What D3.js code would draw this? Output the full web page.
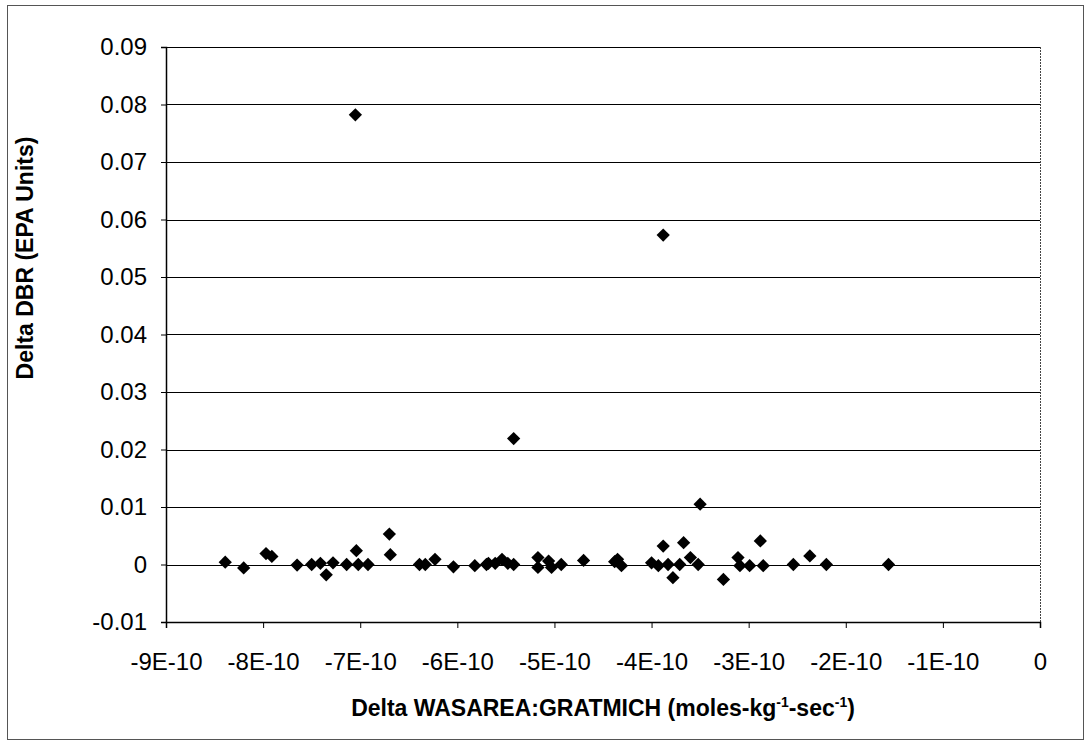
<!DOCTYPE html>
<html>
<head>
<meta charset="utf-8">
<script src="https://cdn.jsdelivr.net/npm/d3@7"></script>
<style>
  body { margin: 0; background: #fff; }
  text { font-family: "Liberation Sans", Arial, sans-serif; fill: #000; }
</style>
</head>
<body>
<script>
// values
let xValues = [
  -7.05e-10, -3.88e-10, -5.42e-10, -3.50e-10,
  -8.39e-10, -8.20e-10, -7.97e-10, -7.91e-10, -7.65e-10, -7.50e-10, -7.41e-10, -7.35e-10,
  -7.28e-10, -7.14e-10, -7.04e-10, -7.02e-10, -6.92e-10, -6.70e-10, -6.69e-10, -6.39e-10,
  -6.33e-10, -6.23e-10, -6.04e-10, -5.82e-10, -5.70e-10, -5.68e-10, -5.61e-10, -5.54e-10,
  -5.48e-10, -5.42e-10, -5.17e-10, -5.17e-10, -5.06e-10, -5.03e-10, -4.93e-10, -4.70e-10,
  -4.38e-10, -4.35e-10, -4.31e-10, -4.00e-10, -3.93e-10, -3.88e-10, -3.83e-10, -3.78e-10,
  -3.71e-10, -3.67e-10, -3.60e-10, -3.52e-10, -3.26e-10, -3.11e-10, -3.09e-10, -2.99e-10,
  -2.88e-10, -2.85e-10, -2.54e-10, -2.37e-10, -2.20e-10, -1.56e-10
];
let yValues = [
  0.0782, 0.0573, 0.0219, 0.0105,
  0.0004, -0.0006, 0.0019, 0.0014, -0.0001, 0, 0.0002, -0.0018,
  0.0003, 0, 0.0024, 0, 0, 0.0053, 0.0017, 0,
  0, 0.0009, -0.0004, -0.0002, 0, 0.0002, 0.0002, 0.0009,
  0.0002, 0, 0.0012, -0.0005, 0.0006, -0.0005, 0, 0.0007,
  0.0005, 0.0009, -0.0002, 0.0003, -0.0002, 0.0032, 0, -0.0023,
  0, 0.0038, 0.0012, 0, -0.0026, 0.0012, -0.0002, -0.0002,
  0.0041, -0.0002, 0, 0.0015, 0, 0
];
let xTicks = [-9e-10, -8e-10, -7e-10, -6e-10, -5e-10, -4e-10, -3e-10, -2e-10, -1e-10, 0];
let xTickLabels = ["-9E-10", "-8E-10", "-7E-10", "-6E-10", "-5E-10", "-4E-10", "-3E-10", "-2E-10", "-1E-10", "0"];
let yTicks = [-0.01, 0, 0.01, 0.02, 0.03, 0.04, 0.05, 0.06, 0.07, 0.08, 0.09];
let yTickLabels = ["-0.01", "0", "0.01", "0.02", "0.03", "0.04", "0.05", "0.06", "0.07", "0.08", "0.09"];

let W = 1089, H = 744;
let margin = {top: 47, right: 49, bottom: 122, left: 166};
let width = W - margin.left - margin.right;
let height = H - margin.top - margin.bottom;

let x = d3.scaleLinear().domain([-9e-10, 0]).range([0, width]);
let y = d3.scaleLinear().domain([-0.01, 0.09]).range([height, 0]);

let svg = d3.select("body").append("svg")
  .attr("width", W)
  .attr("height", H);

// outer chart frame
svg.append("rect")
  .attr("x", 7.5).attr("y", 5.5)
  .attr("width", W - 13).attr("height", H - 10)
  .attr("fill", "none")
  .attr("stroke", "#555")
  .attr("stroke-width", 1);

let g = svg.append("g")
  .attr("transform", "translate(" + margin.left + "," + margin.top + ")");

// horizontal gridlines
g.append("g")
  .selectAll("line")
  .data(yTicks.filter(d => d > -0.01))
  .join("line")
  .attr("x1", 0).attr("x2", width)
  .attr("y1", d => Math.round(y(d)) + 0.5)
  .attr("y2", d => Math.round(y(d)) + 0.5)
  .attr("stroke", "#000")
  .attr("stroke-width", 1);

// right edge of plot area
g.append("line")
  .attr("x1", width + 0.5).attr("x2", width + 0.5)
  .attr("y1", 0).attr("y2", height)
  .attr("stroke", "#444")
  .attr("stroke-dasharray", "2,1");

// axes
let xAxis = g.append("g")
  .attr("transform", "translate(0," + height + ")")
  .call(d3.axisBottom(x).tickValues(xTicks)
    .tickFormat((d, i) => xTickLabels[i]).tickSize(6).tickPadding(25));

let yAxis = g.append("g")
  .call(d3.axisLeft(y).tickValues(yTicks)
    .tickFormat((d, i) => yTickLabels[i]).tickSize(5).tickPadding(14));

[xAxis, yAxis].forEach(a => {
  a.select(".domain").attr("stroke", "#000").attr("stroke-width", 1.5);
  a.selectAll(".tick line").attr("stroke", "#000");
  a.selectAll(".tick text").style("font-size", "24px").attr("fill", "#000");
});

// points (diamonds)
let diamond = d3.symbol().type(d3.symbolSquare).size(88);
g.append("g")
  .selectAll("path")
  .data(xValues.map((v, i) => [v, yValues[i]]))
  .join("path")
  .attr("d", diamond)
  .attr("transform", d => "translate(" + x(d[0]) + "," + y(d[1]) + ") rotate(45)")
  .attr("fill", "#000");

// axis titles
let xt = svg.append("text")
  .attr("x", margin.left + width / 2)
  .attr("y", 716)
  .attr("text-anchor", "middle")
  .style("font-size", "23px")
  .style("font-weight", "bold");
xt.append("tspan").text("Delta WASAREA:GRATMICH (moles-kg");
xt.append("tspan").attr("dy", -9).style("font-size", "14px").text("-1");
xt.append("tspan").attr("dy", 9).text("-sec");
xt.append("tspan").attr("dy", -9).style("font-size", "14px").text("-1");
xt.append("tspan").attr("dy", 9).text(")");

svg.append("text")
  .attr("transform", "translate(33,258) rotate(-90)")
  .attr("text-anchor", "middle")
  .style("font-size", "23px")
  .style("font-weight", "bold")
  .text("Delta DBR (EPA Units)");
</script>
</body>
</html>
